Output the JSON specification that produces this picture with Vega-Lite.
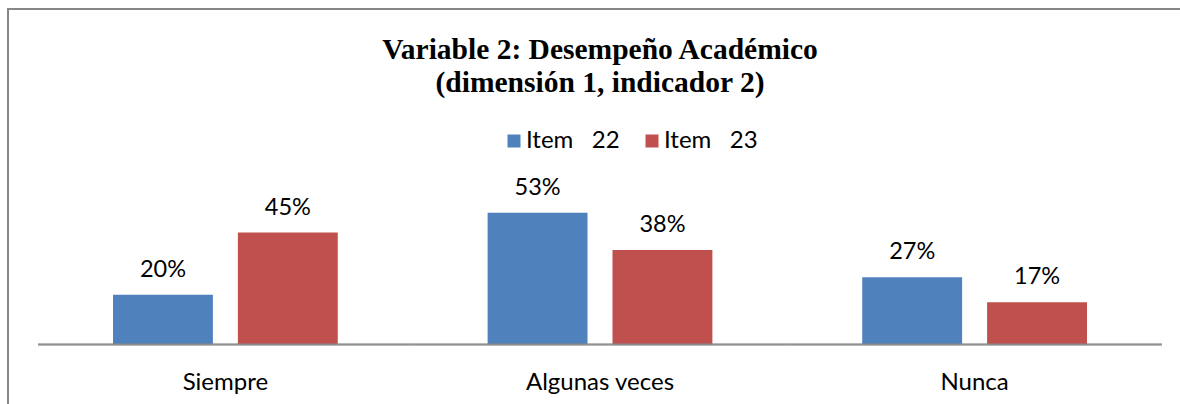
{
  "$schema": "https://vega.github.io/schema/vega-lite/v6.json",
  "width": 1184,
  "height": 400,
  "autosize": {"type": "none"},
  "padding": {"left": 8, "top": 9, "right": 0, "bottom": 0},
  "background": "white",
  "config": {
    "view": {"stroke": "#878787", "strokeWidth": 2},
    "font": "Lato"
  },
  "title": {
    "text": ["Variable 2: Desempeño Académico", "(dimensión 1, indicador 2)"],
    "font": "Liberation Serif",
    "fontSize": 29.5,
    "fontWeight": "bold",
    "color": "black",
    "anchor": "middle",
    "frame": "group",
    "orient": "top",
    "offset": 0,
    "lineHeight": 33,
    "dy": 89
  },
  "data": {
    "values": [
      {"cat": "Siempre", "serie": "Item 22", "pct": 20, "lbl": "20%"},
      {"cat": "Siempre", "serie": "Item 23", "pct": 45, "lbl": "45%"},
      {"cat": "Algunas veces", "serie": "Item 22", "pct": 53, "lbl": "53%"},
      {"cat": "Algunas veces", "serie": "Item 23", "pct": 38, "lbl": "38%"},
      {"cat": "Nunca", "serie": "Item 22", "pct": 27, "lbl": "27%"},
      {"cat": "Nunca", "serie": "Item 23", "pct": 17, "lbl": "17%"}
    ]
  },
  "encoding": {
    "x": {
      "field": "cat",
      "type": "nominal",
      "sort": ["Siempre", "Algunas veces", "Nunca"],
      "scale": {"paddingInner": 0.4, "paddingOuter": 0.2803},
      "axis": {
        "title": null,
        "domain": false,
        "ticks": false,
        "tickSize": 0,
        "grid": false,
        "labelAngle": 0,
        "labelFont": "Lato",
        "labelFontSize": 24,
        "labelColor": "black",
        "labelBaseline": "alphabetic",
        "labelPadding": 44,
        "offset": -64
      }
    }
  },
  "layer": [
    {
      "mark": {"type": "bar"},
      "encoding": {
        "xOffset": {"field": "serie", "type": "nominal", "scale": {"paddingInner": 0.2, "paddingOuter": 0}},
        "y": {"field": "pct", "type": "quantitative", "scale": {"domain": [-26, 135], "nice": false}, "axis": null},
        "color": {
          "field": "serie",
          "type": "nominal",
          "scale": {"domain": ["Item 22", "Item 23"], "range": ["#4F81BD", "#C0504D"]},
          "legend": {
            "title": null,
            "orient": "none",
            "direction": "horizontal",
            "legendX": 494,
            "legendY": 120,
            "symbolType": "square",
            "symbolSize": 169,
            "symbolStrokeWidth": 0,
            "labelFont": "Lato",
            "labelFontSize": 24,
            "labelColor": "black",
            "labelOffset": 0,
            "columnPadding": 20,
            "labelExpr": "replace(datum.label, ' ', '\u00a0\u00a0\u00a0')"
          }
        }
      }
    },
    {
      "mark": {"type": "tick", "orient": "horizontal", "size": 374.6, "thickness": 2, "color": "#878787"},
      "encoding": {
        "y": {"datum": 0}
      }
    },
    {
      "mark": {"type": "text", "baseline": "alphabetic", "dy": -18, "fontSize": 23.5, "font": "Lato", "color": "black"},
      "encoding": {
        "xOffset": {"field": "serie", "type": "nominal", "scale": {"paddingInner": 0.2, "paddingOuter": 0}},
        "y": {"field": "pct", "type": "quantitative"},
        "text": {"field": "lbl", "type": "nominal"}
      }
    }
  ]
}
